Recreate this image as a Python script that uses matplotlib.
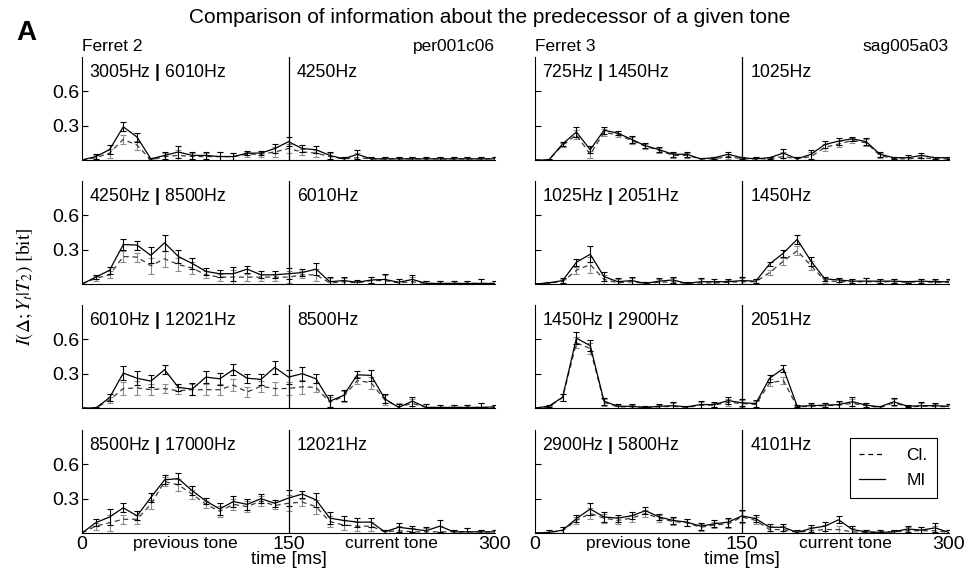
import numpy as np
import matplotlib
matplotlib.use("Agg")
import matplotlib.pyplot as plt
from matplotlib.lines import Line2D

plt.rcParams['font.family'] = ['Liberation Sans', 'DejaVu Sans']
plt.rcParams['mathtext.fontset'] = 'custom'
plt.rcParams['mathtext.rm'] = 'Liberation Sans'
plt.rcParams['mathtext.bf'] = 'Liberation Sans:bold'

# time bins (ms) since the onset of the previous tone
time_ms = list(range(0, 310, 10))

# ---- Ferret 2 (per001c06) ----
f2_r1_mi = [0, 0.03, 0.09, 0.29, 0.20, 0.01, 0.04, 0.07, 0.04, 0.04, 0.03, 0.03, 0.06, 0.06, 0.10, 0.16,
            0.10, 0.09, 0.04, 0.01, 0.05, 0.01, 0.01, 0.01, 0.01, 0.01, 0.01, 0.01, 0.01, 0.01, 0.01]
f2_r1_cl = [0, 0.02, 0.06, 0.18, 0.13, 0.0, 0.03, 0.04, 0.03, 0.03, 0.03, 0.03, 0.05, 0.05, 0.07, 0.10,
            0.07, 0.06, 0.03, 0.01, 0.02, 0.01, 0.01, 0.01, 0.01, 0.01, 0.01, 0.01, 0.01, 0.01, 0.01]
f2_r1_err = [0, 0.02, 0.04, 0.04, 0.04, 0.01, 0.03, 0.05, 0.03, 0.03, 0.04, 0.03, 0.02, 0.02, 0.04, 0.04,
             0.03, 0.03, 0.03, 0.02, 0.04, 0.02, 0.02, 0.02, 0.02, 0.02, 0.02, 0.02, 0.02, 0.02, 0.02]

f2_r2_mi = [0, 0.06, 0.12, 0.345, 0.34, 0.25, 0.36, 0.24, 0.18, 0.11, 0.09, 0.09, 0.13, 0.08, 0.08, 0.09,
            0.10, 0.13, 0.02, 0.03, 0.015, 0.035, 0.04, 0.015, 0.04, 0.005, 0.005, 0.005, 0.005, 0.005, 0.005]
f2_r2_cl = [0, 0.05, 0.08, 0.24, 0.235, 0.16, 0.22, 0.17, 0.14, 0.08, 0.06, 0.06, 0.06, 0.06, 0.06, 0.06,
            0.08, 0.08, 0.01, 0.02, 0.01, 0.03, 0.03, 0.01, 0.02, 0.005, 0.005, 0.005, 0.005, 0.005, 0.005]
f2_r2_err = [0, 0.02, 0.03, 0.05, 0.04, 0.07, 0.07, 0.06, 0.05, 0.03, 0.03, 0.06, 0.03, 0.03, 0.03, 0.05,
             0.03, 0.05, 0.04, 0.03, 0.02, 0.03, 0.05, 0.03, 0.04, 0.02, 0.02, 0.02, 0.02, 0.04, 0.02]

f2_r3_mi = [0, 0.0, 0.09, 0.305, 0.26, 0.235, 0.335, 0.18, 0.165, 0.27, 0.255, 0.335, 0.26, 0.25, 0.355, 0.27,
            0.30, 0.255, 0.06, 0.11, 0.29, 0.285, 0.08, 0.005, 0.06, 0.005, 0.005, 0.005, 0.005, 0.005, 0.01]
f2_r3_cl = [0, 0.0, 0.07, 0.17, 0.175, 0.16, 0.17, 0.15, 0.16, 0.16, 0.16, 0.20, 0.14, 0.19, 0.17, 0.17,
            0.185, 0.18, 0.05, 0.10, 0.24, 0.22, 0.07, 0.01, 0.04, 0.005, 0.005, 0.005, 0.005, 0.005, 0.005]
f2_r3_err = [0, 0.01, 0.03, 0.06, 0.06, 0.05, 0.04, 0.03, 0.05, 0.05, 0.05, 0.05, 0.04, 0.05, 0.06, 0.06,
             0.06, 0.04, 0.05, 0.05, 0.03, 0.05, 0.04, 0.03, 0.04, 0.03, 0.02, 0.02, 0.02, 0.04, 0.02]

f2_r4_mi = [0, 0.09, 0.14, 0.22, 0.15, 0.31, 0.465, 0.475, 0.37, 0.28, 0.21, 0.275, 0.25, 0.30, 0.26, 0.305,
            0.34, 0.29, 0.13, 0.11, 0.095, 0.095, 0.01, 0.05, 0.035, 0.02, 0.06, 0.01, 0.01, 0.01, 0.01]
f2_r4_cl = [0, 0.06, 0.09, 0.12, 0.12, 0.25, 0.45, 0.42, 0.34, 0.25, 0.19, 0.25, 0.23, 0.28, 0.24, 0.26,
            0.27, 0.23, 0.10, 0.07, 0.06, 0.06, 0.01, 0.02, 0.01, 0.01, 0.01, 0.01, 0.01, 0.01, 0.01]
f2_r4_err = [0, 0.03, 0.07, 0.04, 0.04, 0.04, 0.04, 0.05, 0.04, 0.03, 0.05, 0.05, 0.05, 0.04, 0.03, 0.07,
             0.03, 0.06, 0.05, 0.04, 0.04, 0.04, 0.02, 0.04, 0.03, 0.03, 0.05, 0.02, 0.03, 0.02, 0.02]

# ---- Ferret 3 (sag005a03) ----
f3_r1_mi = [0, 0, 0.14, 0.245, 0.09, 0.26, 0.235, 0.18, 0.125, 0.09, 0.05, 0.05, 0.01, 0.02, 0.05, 0.02,
            0.01, 0.02, 0.06, 0.01, 0.05, 0.135, 0.165, 0.185, 0.16, 0.05, 0.02, 0.02, 0.04, 0.02, 0.02]
f3_r1_cl = [0, 0, 0.13, 0.22, 0.05, 0.24, 0.22, 0.17, 0.12, 0.085, 0.04, 0.04, 0.01, 0.01, 0.03, 0.01,
            0.01, 0.01, 0.03, 0.01, 0.03, 0.11, 0.14, 0.17, 0.15, 0.04, 0.01, 0.01, 0.02, 0.01, 0.01]
f3_r1_err = [0, 0.01, 0.02, 0.04, 0.03, 0.03, 0.02, 0.03, 0.02, 0.02, 0.02, 0.02, 0.01, 0.01, 0.02, 0.01,
             0.02, 0.01, 0.04, 0.02, 0.04, 0.03, 0.03, 0.02, 0.03, 0.02, 0.01, 0.02, 0.02, 0.01, 0.01]

f3_r2_mi = [0, 0.01, 0.03, 0.19, 0.26, 0.065, 0.02, 0.03, 0.005, 0.025, 0.035, 0.005, 0.02, 0.02, 0.02, 0.03,
            0.025, 0.175, 0.27, 0.39, 0.20, 0.045, 0.035, 0.025, 0.025, 0.025, 0.025, 0.02, 0.025, 0.02, 0.02]
f3_r2_cl = [0, 0.01, 0.02, 0.12, 0.17, 0.04, 0.01, 0.02, 0.005, 0.015, 0.02, 0.005, 0.01, 0.01, 0.015, 0.02,
            0.02, 0.10, 0.20, 0.29, 0.16, 0.03, 0.02, 0.02, 0.02, 0.02, 0.02, 0.015, 0.02, 0.015, 0.015]
f3_r2_err = [0, 0.01, 0.02, 0.03, 0.07, 0.04, 0.03, 0.03, 0.01, 0.03, 0.03, 0.01, 0.03, 0.02, 0.02, 0.03,
             0.02, 0.02, 0.03, 0.04, 0.04, 0.02, 0.02, 0.02, 0.03, 0.02, 0.02, 0.01, 0.02, 0.02, 0.02]

f3_r3_mi = [0, 0.015, 0.095, 0.61, 0.545, 0.06, 0.015, 0.015, 0.005, 0.015, 0.02, 0.01, 0.03, 0.03, 0.065, 0.045,
            0.04, 0.26, 0.345, 0.015, 0.02, 0.025, 0.03, 0.055, 0.025, 0.01, 0.055, 0.015, 0.02, 0.02, 0.015]
f3_r3_cl = [0, 0.01, 0.09, 0.57, 0.52, 0.05, 0.01, 0.01, 0.005, 0.01, 0.015, 0.005, 0.025, 0.025, 0.05, 0.04,
            0.03, 0.22, 0.24, 0.01, 0.015, 0.02, 0.025, 0.04, 0.02, 0.005, 0.045, 0.01, 0.015, 0.015, 0.01]
f3_r3_err = [0, 0.01, 0.03, 0.05, 0.05, 0.03, 0.02, 0.02, 0.01, 0.02, 0.03, 0.01, 0.03, 0.02, 0.03, 0.03,
             0.03, 0.03, 0.03, 0.01, 0.02, 0.02, 0.03, 0.04, 0.02, 0.01, 0.03, 0.01, 0.03, 0.02, 0.02]

f3_r4_mi = [0, 0.005, 0.025, 0.125, 0.21, 0.14, 0.13, 0.15, 0.195, 0.14, 0.11, 0.095, 0.06, 0.08, 0.095, 0.15,
            0.125, 0.05, 0.05, 0.005, 0.04, 0.06, 0.115, 0.03, 0.01, 0.005, 0.01, 0.035, 0.025, 0.045, 0.005]
f3_r4_cl = [0, 0.005, 0.02, 0.11, 0.17, 0.13, 0.11, 0.13, 0.17, 0.13, 0.10, 0.09, 0.05, 0.07, 0.08, 0.14,
            0.11, 0.03, 0.03, 0.005, 0.02, 0.03, 0.03, 0.01, 0.005, 0.01, 0.01, 0.02, 0.02, 0.02, 0.005]
f3_r4_err = [0, 0.02, 0.03, 0.03, 0.05, 0.04, 0.03, 0.03, 0.03, 0.03, 0.03, 0.03, 0.03, 0.03, 0.04, 0.05,
             0.03, 0.03, 0.03, 0.02, 0.03, 0.04, 0.03, 0.03, 0.02, 0.02, 0.02, 0.03, 0.03, 0.04, 0.02]

# tone labels: (previous pair, current tone)
f2_prev = ["3005Hz", "6010Hz"], ["4250Hz", "8500Hz"], ["6010Hz", "12021Hz"], ["8500Hz", "17000Hz"]
f2_curr = ["4250Hz", "6010Hz", "8500Hz", "12021Hz"]
f3_prev = ["725Hz", "1450Hz"], ["1025Hz", "2051Hz"], ["1450Hz", "2900Hz"], ["2900Hz", "5800Hz"]
f3_curr = ["1025Hz", "1450Hz", "2051Hz", "4101Hz"]

animals = ["Ferret 2", "Ferret 3"]
units = ["per001c06", "sag005a03"]
y_ticks = [0.3, 0.6]
x_ticks = [0, 75, 150, 225, 300]
x_ticklabels = ["0", "previous tone", "150", "current tone", "300"]

columns = [
    dict(mi=[f2_r1_mi, f2_r2_mi, f2_r3_mi, f2_r4_mi], cl=[f2_r1_cl, f2_r2_cl, f2_r3_cl, f2_r4_cl],
         err=[f2_r1_err, f2_r2_err, f2_r3_err, f2_r4_err], prev=f2_prev, curr=f2_curr),
    dict(mi=[f3_r1_mi, f3_r2_mi, f3_r3_mi, f3_r4_mi], cl=[f3_r1_cl, f3_r2_cl, f3_r3_cl, f3_r4_cl],
         err=[f3_r1_err, f3_r2_err, f3_r3_err, f3_r4_err], prev=f3_prev, curr=f3_curr),
]

W, H = 970, 576
fig = plt.figure(figsize=(W / 100, H / 100), dpi=100)

col_x = [82, 535]
col_w = [413, 414]
row_base = [160, 284, 408, 533]
ax_h = 103

dash = (0, (4, 3))
last_ax = None
for c, col in enumerate(columns):
    for r in range(4):
        ax = fig.add_axes([col_x[c] / W, 1 - row_base[r] / H, col_w[c] / W, ax_h / H])
        t = np.array(time_ms)
        ax.errorbar(t, col["cl"][r], yerr=col["err"][r], color="#3a3a3a", ls=dash, lw=0.9,
                    ecolor="#8c8c8c", elinewidth=0.8, capsize=2.2, capthick=0.8,
                    errorevery=(1, 1), zorder=2)
        ax.errorbar(t, col["mi"][r], yerr=col["err"][r], color="black", ls="-", lw=0.9,
                    ecolor="black", elinewidth=0.8, capsize=2.2, capthick=0.8,
                    errorevery=(1, 1), zorder=3)
        ax.axvline(150, color="black", lw=0.9, zorder=4)
        ax.set_xlim(0, 300)
        ax.set_ylim(0, 0.9)
        for s in ("top", "right"):
            ax.spines[s].set_visible(False)
        for s in ("left", "bottom"):
            ax.spines[s].set_linewidth(0.8)
        ax.set_yticks(y_ticks)
        ax.tick_params(axis="y", direction="in", length=4, width=0.8, labelsize=14, pad=2,
                       labelleft=(c == 0))
        if c == 0:
            ax.set_yticklabels(["0.3", "0.6"])
        ax.set_xticks(x_ticks)
        ax.tick_params(axis="x", length=0, pad=2)
        if r == 3:
            ax.set_xticklabels(x_ticklabels)
            for lbl, txt in zip(ax.get_xticklabels(), x_ticklabels):
                lbl.set_fontsize(12.5 if "tone" in txt else 14)
            ax.set_xlabel("time [ms]", fontsize=13.5, labelpad=-1)
        else:
            ax.set_xticklabels([])
        p1, p2 = col["prev"][r]
        ax.text(0.017, 0.85, p1 + r" $\mathbf{|}$ " + p2, transform=ax.transAxes,
                fontsize=12.7, va="center", ha="left")
        ax.text(156, 0.85, col["curr"][r], transform=ax.get_xaxis_transform(),
                fontsize=12.7, va="center", ha="left")
        if r == 0:
            ax.text(0, 1.03, animals[c], transform=ax.transAxes, fontsize=12.5,
                    va="bottom", ha="left")
            ax.text(1, 1.03, units[c], transform=ax.transAxes, fontsize=12.5,
                    va="bottom", ha="right")
        last_ax = ax

handles = [Line2D([], [], color="black", ls=dash, lw=0.9, label="Cl."),
           Line2D([], [], color="black", ls="-", lw=0.9, label="MI")]
leg = last_ax.legend(handles=handles, loc="upper right", bbox_to_anchor=(0.971, 0.922),
                     borderaxespad=0, frameon=True, fancybox=False, edgecolor="black",
                     framealpha=1, fontsize=12.5, handlelength=1.5, handletextpad=1.2,
                     labelspacing=0.6, borderpad=0.55)
leg.get_frame().set_linewidth(0.8)

fig.text(0.505, 0.969, "Comparison of information about the predecessor of a given tone",
         ha="center", va="center", fontsize=15)
fig.text(0.027, 0.943, "A", ha="center", va="center", fontsize=20, fontweight="bold")
fig.text(0.025, 0.502, r"$I(\Delta;Y_t|T_2)\ \mathrm{[bit]}$", rotation=90,
         ha="center", va="center", fontsize=14, math_fontfamily="stix")

fig.savefig("out.png", dpi=100)
